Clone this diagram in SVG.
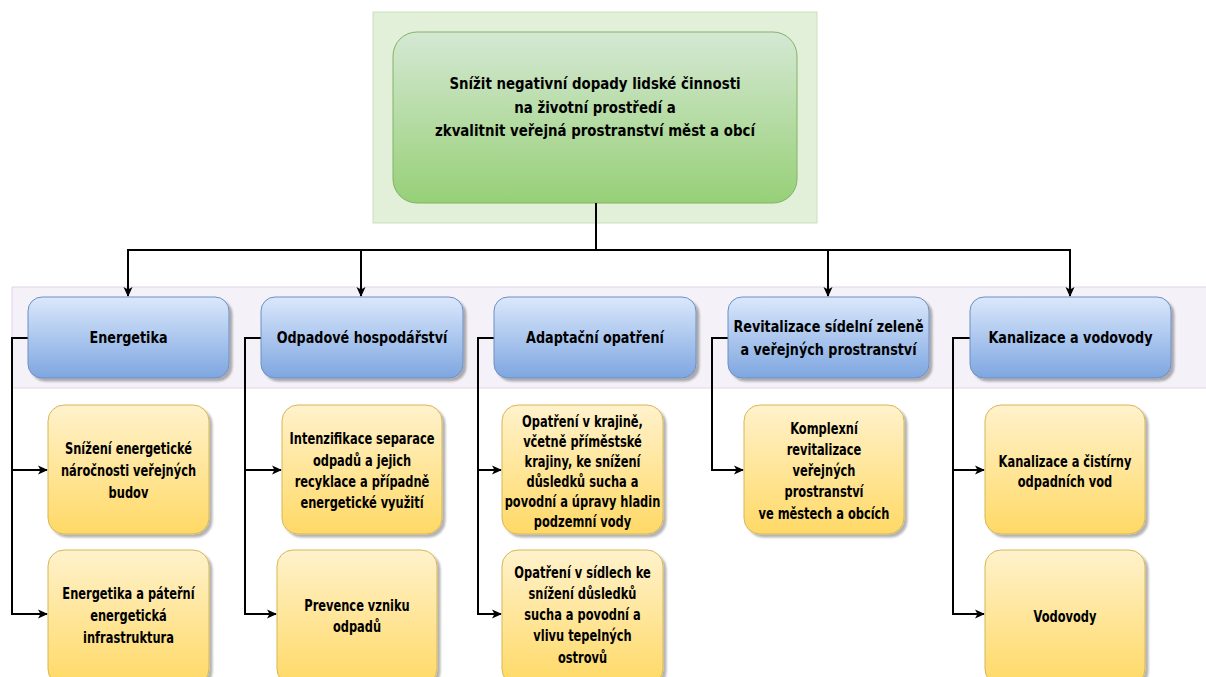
<svg xmlns="http://www.w3.org/2000/svg" width="1206" height="677" viewBox="0 0 1206 677">
<defs>
<linearGradient id="gGreen" x1="0" y1="0" x2="0" y2="1"><stop offset="0" stop-color="#d5e8d4"/><stop offset="1" stop-color="#97d077"/></linearGradient>
<linearGradient id="gBlue" x1="0" y1="0" x2="0" y2="1"><stop offset="0" stop-color="#dae8fc"/><stop offset="1" stop-color="#7ea6e0"/></linearGradient>
<linearGradient id="gYellow" x1="0" y1="0" x2="0" y2="1"><stop offset="0" stop-color="#fff2cc"/><stop offset="1" stop-color="#ffd966"/></linearGradient>
<filter id="shadow" x="-10%" y="-10%" width="130%" height="130%"><feGaussianBlur in="SourceAlpha" stdDeviation="1.2"/><feOffset dx="2.5" dy="3" result="o"/><feComponentTransfer><feFuncA type="linear" slope="0.3"/></feComponentTransfer><feMerge><feMergeNode/><feMergeNode in="SourceGraphic"/></feMerge></filter>
<marker id="arr" viewBox="0 0 10 10" refX="9" refY="5" markerWidth="10" markerHeight="10" markerUnits="userSpaceOnUse" orient="auto"><path d="M0,0.5 L10,5 L0,9.5 L2.5,5 Z" fill="#000"/></marker>
</defs>
<style>
.t{font-family:"DejaVu Sans Condensed","Liberation Sans",sans-serif;font-weight:bold;fill:#000;text-anchor:middle}
.t16{font-size:16.5px}
.t15{font-size:15.5px}
.blue{fill:url(#gBlue);stroke:#6c8ebf;stroke-width:1}
.yel{fill:url(#gYellow);stroke:#d6b656;stroke-width:1}
.con{fill:none;stroke:#000;stroke-width:2}
</style>
<rect x="373" y="12" width="444" height="211" fill="#e2efd9" stroke="#c9e1bd" stroke-width="1"/>
<rect x="12" y="287" width="1200" height="101" fill="#f5f1f8" stroke="#e1d5e7" stroke-width="1"/>
<g id="top">
<rect x="393" y="32" width="404" height="171" rx="24" fill="url(#gGreen)" stroke="#82b366" stroke-width="1"/>
<text class="t t16" transform="translate(595 0) scale(0.9 1)"><tspan x="0" y="89">Snížit negativní dopady lidské činnosti</tspan><tspan x="0" y="113">na životní prostředí a</tspan><tspan x="0" y="136">zkvalitnit veřejná prostranství měst a obcí</tspan></text>
</g>
<g id="connectors">
<path class="con" d="M596,203 V250 H128 V296" marker-end="url(#arr)"/>
<path class="con" d="M596,250 H361 V296" marker-end="url(#arr)"/>
<path class="con" d="M596,250 H828 V296" marker-end="url(#arr)"/>
<path class="con" d="M596,250 H1070 V296" marker-end="url(#arr)"/>
<path class="con" d="M28,338 H12 V470 H47" marker-end="url(#arr)"/>
<path class="con" d="M12,470 V614 H47" marker-end="url(#arr)"/>
<path class="con" d="M261,338 H245 V470 H281" marker-end="url(#arr)"/>
<path class="con" d="M245,470 V614 H276" marker-end="url(#arr)"/>
<path class="con" d="M494,338 H478 V470 H501" marker-end="url(#arr)"/>
<path class="con" d="M478,470 V614 H501" marker-end="url(#arr)"/>
<path class="con" d="M728,338 H712 V470 H743" marker-end="url(#arr)"/>
<path class="con" d="M970,338 H953 V470 H984" marker-end="url(#arr)"/>
<path class="con" d="M953,470 V614 H984" marker-end="url(#arr)"/>
</g>
<g id="energetika"><rect class="blue" x="28" y="297" width="201" height="81" rx="14" filter="url(#shadow)"/><text class="t t16" transform="translate(128.5 0) scale(0.86 1)" x="0" y="343">Energetika</text></g>
<g id="odpadove"><rect class="blue" x="261" y="297" width="202" height="81" rx="14" filter="url(#shadow)"/><text class="t t16" transform="translate(362 0) scale(0.86 1)" x="0" y="343">Odpadové hospodářství</text></g>
<g id="adaptacni"><rect class="blue" x="494" y="297" width="202" height="81" rx="14" filter="url(#shadow)"/><text class="t t16" transform="translate(595 0) scale(0.86 1)" x="0" y="343">Adaptační opatření</text></g>
<g id="revitalizace"><rect class="blue" x="728" y="297" width="201" height="81" rx="14" filter="url(#shadow)"/><text class="t t16" transform="translate(828.5 0) scale(0.86 1)"><tspan x="0" y="332">Revitalizace sídelní zeleně</tspan><tspan x="0" y="355">a veřejných prostranství</tspan></text></g>
<g id="kanalizace"><rect class="blue" x="970" y="297" width="201" height="81" rx="14" filter="url(#shadow)"/><text class="t t16" transform="translate(1070.5 0) scale(0.86 1)" x="0" y="343">Kanalizace a vodovody</text></g>
<g id="e1"><rect class="yel" x="48" y="405" width="161" height="129" rx="16" filter="url(#shadow)"/><text class="t t15" transform="translate(128.5 0) scale(0.82 1)"><tspan x="0" y="454">Snížení energetické</tspan><tspan x="0" y="476">náročnosti veřejných</tspan><tspan x="0" y="498">budov</tspan></text></g>
<g id="e2"><rect class="yel" x="48" y="550" width="161" height="135" rx="16" filter="url(#shadow)"/><text class="t t15" transform="translate(128.5 0) scale(0.82 1)"><tspan x="0" y="599">Energetika a páteřní</tspan><tspan x="0" y="621">energetická</tspan><tspan x="0" y="643">infrastruktura</tspan></text></g>
<g id="o1"><rect class="yel" x="282" y="405" width="160" height="129" rx="16" filter="url(#shadow)"/><text class="t t15" transform="translate(362 0) scale(0.82 1)"><tspan x="0" y="444">Intenzifikace separace</tspan><tspan x="0" y="466">odpadů a jejich</tspan><tspan x="0" y="487">recyklace a případně</tspan><tspan x="0" y="508">energetické využití</tspan></text></g>
<g id="o2"><rect class="yel" x="277" y="550" width="160" height="135" rx="16" filter="url(#shadow)"/><text class="t t15" transform="translate(357 0) scale(0.82 1)"><tspan x="0" y="611">Prevence vzniku</tspan><tspan x="0" y="632">odpadů</tspan></text></g>
<g id="a1"><rect class="yel" x="502" y="405" width="161" height="129" rx="16" filter="url(#shadow)"/><text class="t t15" transform="translate(582.5 0) scale(0.82 1)"><tspan x="0" y="427">Opatření v krajině,</tspan><tspan x="0" y="447">včetně příměstské</tspan><tspan x="0" y="467">krajiny, ke snížení</tspan><tspan x="0" y="487">důsledků sucha a</tspan><tspan x="0" y="507">povodní a úpravy hladin</tspan><tspan x="0" y="527">podzemní vody</tspan></text></g>
<g id="a2"><rect class="yel" x="502" y="550" width="161" height="135" rx="16" filter="url(#shadow)"/><text class="t t15" transform="translate(582.5 0) scale(0.82 1)"><tspan x="0" y="578">Opatření v sídlech ke</tspan><tspan x="0" y="599">snížení důsledků</tspan><tspan x="0" y="620">sucha a povodní a</tspan><tspan x="0" y="641">vlivu tepelných</tspan><tspan x="0" y="663">ostrovů</tspan></text></g>
<g id="r1"><rect class="yel" x="744" y="405" width="160" height="129" rx="16" filter="url(#shadow)"/><text class="t t15" transform="translate(824 0) scale(0.82 1)"><tspan x="0" y="434">Komplexní</tspan><tspan x="0" y="455">revitalizace</tspan><tspan x="0" y="476">veřejných</tspan><tspan x="0" y="497">prostranství</tspan><tspan x="0" y="519">ve městech a obcích</tspan></text></g>
<g id="k1"><rect class="yel" x="985" y="405" width="160" height="129" rx="16" filter="url(#shadow)"/><text class="t t15" transform="translate(1065 0) scale(0.82 1)"><tspan x="0" y="467">Kanalizace a čistírny</tspan><tspan x="0" y="487">odpadních vod</tspan></text></g>
<g id="k2"><rect class="yel" x="985" y="550" width="160" height="135" rx="16" filter="url(#shadow)"/><text class="t t15" transform="translate(1065 0) scale(0.82 1)" x="0" y="622">Vodovody</text></g>
</svg>
